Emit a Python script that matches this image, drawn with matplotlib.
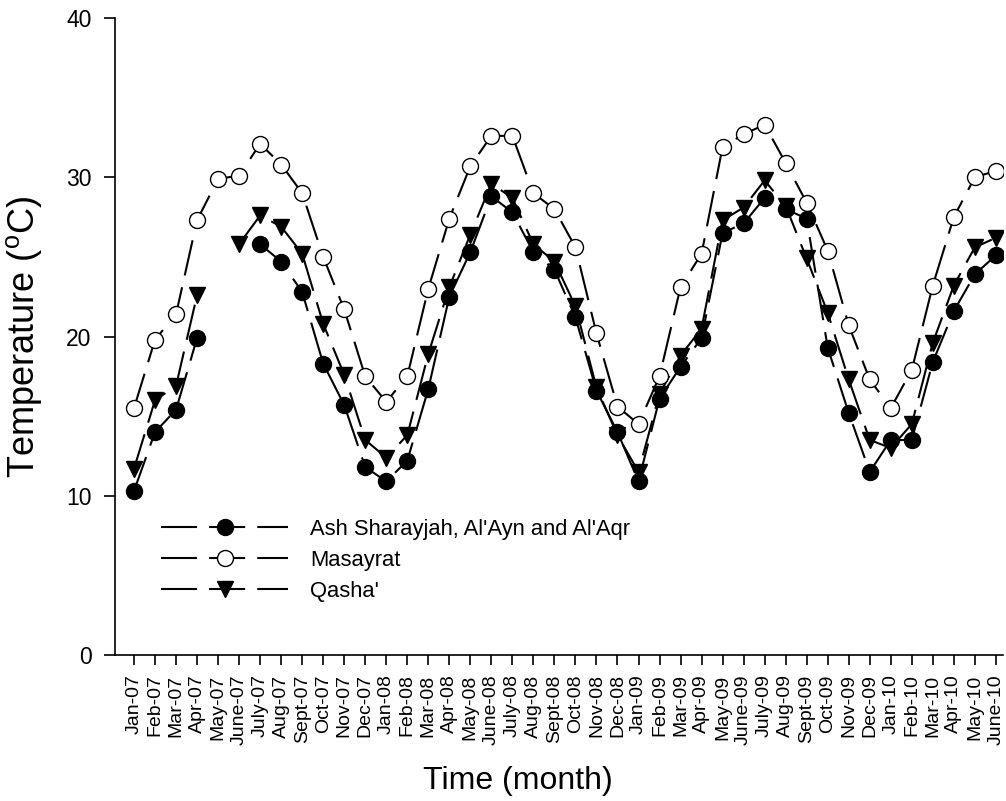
import numpy as np
import matplotlib
matplotlib.use("Agg")
import matplotlib.pyplot as plt

plt.rcParams['font.family'] = ['Liberation Sans', 'DejaVu Sans']

months = ["Jan-07", "Feb-07", "Mar-07", "Apr-07", "May-07", "June-07", "July-07", "Aug-07",
          "Sept-07", "Oct-07", "Nov-07", "Dec-07",
          "Jan-08", "Feb-08", "Mar-08", "Apr-08", "May-08", "June-08", "July-08", "Aug-08",
          "Sept-08", "Oct-08", "Nov-08", "Dec-08",
          "Jan-09", "Feb-09", "Mar-09", "Apr-09", "May-09", "June-09", "July-09", "Aug-09",
          "Sept-09", "Oct-09", "Nov-09", "Dec-09",
          "Jan-10", "Feb-10", "Mar-10", "Apr-10", "May-10", "June-10"]

nan = np.nan
ash = [10.3, 14.0, 15.4, 19.9, nan, nan, 25.8, 24.7, 22.8, 18.3, 15.7, 11.8,
       10.9, 12.2, 16.7, 22.5, 25.3, 28.8, 27.8, 25.3, 24.2, 21.2, 16.6, 14.0,
       10.9, 16.1, 18.1, 19.9, 26.5, 27.1, 28.7, 28.0, 27.4, 19.3, 15.2, 11.5,
       13.5, 13.5, 18.4, 21.6, 23.9, 25.1]
masayrat = [15.5, 19.8, 21.4, 27.3, 29.9, 30.1, 32.1, 30.8, 29.0, 25.0, 21.7, 17.5,
            15.9, 17.5, 23.0, 27.4, 30.7, 32.6, 32.6, 29.0, 28.0, 25.6, 20.2, 15.6,
            14.5, 17.5, 23.1, 25.2, 31.9, 32.7, 33.3, 30.9, 28.4, 25.4, 20.7, 17.3,
            15.5, 17.9, 23.2, 27.5, 30.0, 30.4]
qasha = [11.7, 16.0, 16.9, 22.6, nan, 25.8, 27.6, 26.9, 25.2, 20.8, 17.6, 13.5,
         12.4, 13.8, 18.9, 23.1, 26.4, 29.6, 28.7, 25.8, 24.7, 21.9, 16.8, 13.8,
         11.5, 16.4, 18.8, 20.5, 27.3, 28.1, 29.8, 28.2, 24.9, 21.5, 17.3, 13.5,
         13.0, 14.5, 19.6, 23.2, 25.6, 26.2]

x = np.arange(len(months))

fig = plt.figure(figsize=(10.06, 8.01), dpi=100)
ax = fig.add_axes([115/1006, (801-655)/801, 888/1006, (655-18)/801])

dash = (0, (17.3, 5.8))
common = dict(color='black', lw=1.5, ls=dash, markersize=11.5,
              markeredgecolor='black', markeredgewidth=1.0)
lq, = ax.plot(x, qasha, marker='v', markerfacecolor='black', label="Qasha'", **common)
lm, = ax.plot(x, masayrat, marker='o', markerfacecolor='white', label="Masayrat", **common)
la, = ax.plot(x, ash, marker='o', markerfacecolor='black',
              label="Ash Sharayjah, Al'Ayn and Al'Aqr", **common)

ax.set_xlim(-0.904, 41.34)
ax.set_ylim(0, 40)
ax.set_yticks([0, 10, 20, 30, 40])
ax.set_xticks(x)
ax.set_xticklabels(months, rotation=90, fontsize=14)
ax.tick_params(axis='y', labelsize=16.5, length=8, width=1.2, direction='out', pad=9)
ax.tick_params(axis='x', length=7, width=1.2, direction='out', pad=7)
for s in ['top', 'right']:
    ax.spines[s].set_visible(False)
for s in ['left', 'bottom']:
    ax.spines[s].set_linewidth(1.2)

ax.set_ylabel("Temperature ($\\mathregular{^o}$C)", fontsize=26)
ax.set_xlabel("Time (month)", fontsize=23)
ax.yaxis.set_label_coords(-0.080, 0.5)
ax.xaxis.set_label_coords(0.454, -0.174)

leg = ax.legend(handles=[la, lm, lq], loc='upper left',
                bbox_to_anchor=(46/888, (655-519)/637), frameon=False,
                fontsize=15.8, handlelength=5.8, handletextpad=1.0,
                labelspacing=0.45, numpoints=1, borderpad=0, borderaxespad=0)

fig.savefig("out.png", dpi=100)
